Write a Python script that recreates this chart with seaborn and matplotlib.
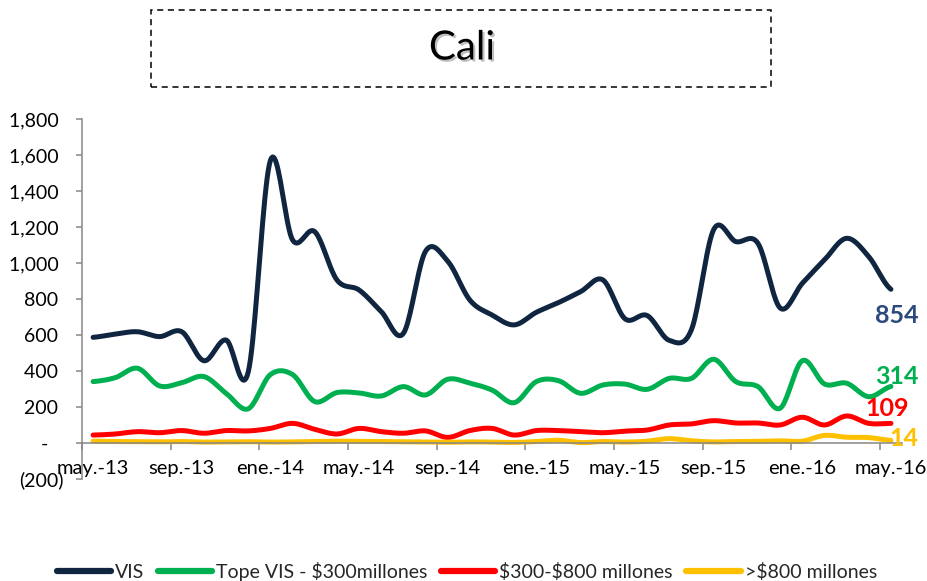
import numpy as np
import pandas as pd
import seaborn as sns
import matplotlib.pyplot as plt
import matplotlib.patheffects as pe
from matplotlib.patches import Rectangle
from matplotlib.ticker import FuncFormatter, FixedLocator

# monthly values, may-13 .. may-16
vis = [587, 605, 618, 591, 618, 457, 572, 395, 1570, 1128, 1174, 906, 850,
       730, 609, 1065, 1010, 794, 711, 656, 726, 780, 841, 906, 690, 708,
       570, 630, 1185, 1119, 1109, 750, 887, 1017, 1137, 1035, 854]
tope_vis = [341, 363, 415, 317, 335, 369, 276, 190, 380, 380, 230, 280, 278,
            261, 313, 267, 354, 332, 294, 224, 341, 346, 276, 322, 327, 298,
            359, 359, 465, 341, 313, 193, 457, 328, 332, 257, 314]
rango_300_800 = [44, 50, 63, 57, 69, 54, 69, 67, 81, 109, 76, 50, 81, 63, 54,
                 67, 31, 69, 81, 44, 69, 69, 63, 57, 66, 72, 100, 106, 124,
                 111, 111, 100, 143, 100, 150, 109, 109]
mayor_800 = [10, 8, 7, 6, 8, 5, 6, 7, 5, 6, 8, 10, 9, 8, 7, 6, 4, 6, 5, 3, 8,
             15, 2, 8, 5, 10, 24, 12, 6, 8, 9, 12, 10, 42, 32, 30, 14]

month_labels = ["may.-13", "sep.-13", "ene.-14", "may.-14", "sep.-14",
                "ene.-15", "may.-15", "sep.-15", "ene.-16", "may.-16"]

series_names = ["VIS", "Tope VIS - $300millones", "$300-$800 millones",
                ">$800 millones"]
series_values = [vis, tope_vis, rango_300_800, mayor_800]
colors = ["#0F2540", "#00B050", "#FF0000", "#FFC000"]
label_colors = ["#2E4A7D", "#00B050", "#FF0000", "#FFC000"]
label_offsets = [(4, -19), (4, 7), (-3, 11), (9, 1.5)]


def smooth(y, n=20):
    # catmull-rom curve through the points, like excel's smoothed line
    y = np.asarray(y, dtype=float)
    p = np.concatenate([[y[0]], y, [y[-1]]])
    xs, ys = [], []
    for i in range(len(y) - 1):
        p0, p1, p2, p3 = p[i], p[i + 1], p[i + 2], p[i + 3]
        t = np.linspace(0, 1, n, endpoint=False)
        c = 0.5 * (2 * p1 + (-p0 + p2) * t + (2 * p0 - 5 * p1 + 4 * p2 - p3) * t ** 2
                   + (-p0 + 3 * p1 - 3 * p2 + p3) * t ** 3)
        xs.append(i + t)
        ys.append(c)
    xs.append([len(y) - 1])
    ys.append([y[-1]])
    return np.concatenate(xs), np.concatenate(ys)


frames = []
for name, vals in zip(series_names, series_values):
    sx, sy = smooth(vals)
    frames.append(pd.DataFrame({"x": sx, "y": sy, "serie": name}))
df = pd.concat(frames, ignore_index=True)

sns.set_style("white")
plt.rcParams['font.family'] = ['Lato', 'DejaVu Sans']

fig = plt.figure(figsize=(9.28, 5.81), dpi=100)
ax = fig.add_axes([0.0884, 0.1756, 0.8836, 0.6196])

sns.lineplot(data=df, x="x", y="y", hue="serie", palette=colors,
             hue_order=series_names, sort=False, linewidth=3.6, ax=ax,
             legend=True)
for line in ax.get_lines():
    line.set_solid_capstyle("round")

ax.set_xlim(-0.5, 36.5)
ax.set_ylim(-200, 1800)
ax.set_xlabel("")
ax.set_ylabel("")

gray = "#868686"
for s in ["top", "right"]:
    ax.spines[s].set_visible(False)
ax.spines["left"].set_color(gray)
ax.spines["bottom"].set_color(gray)
ax.spines["left"].set_linewidth(1.1)
ax.spines["bottom"].set_linewidth(1.1)
ax.spines["bottom"].set_position(("data", 0))

ax.set_yticks(np.arange(-200, 1801, 200))


def y_fmt(v, pos):
    if v == 0:
        return "-   "
    if v < 0:
        return "({:,.0f})".format(-v)
    return "{:,.0f} ".format(v)


ax.yaxis.set_major_formatter(FuncFormatter(y_fmt))
ax.tick_params(axis="y", direction="out", length=4.5, width=1.1, color=gray,
               pad=9, labelsize=14, labelcolor="black", left=True)

# ticks sit between months, labels on the months
ax.xaxis.set_major_locator(FixedLocator(np.arange(-0.5, 36, 4)))
ax.xaxis.set_minor_locator(FixedLocator(np.arange(0, 37, 4)))
ax.xaxis.set_major_formatter(FuncFormatter(lambda v, p: ""))
ax.xaxis.set_minor_formatter(FuncFormatter(lambda v, p: month_labels[int(round(v / 4))]))
ax.tick_params(axis="x", which="major", direction="out", length=5, width=1.1,
               color=gray, bottom=True)
ax.tick_params(axis="x", which="minor", length=0, pad=12, labelsize=14.5,
               labelcolor="black", bottom=True)

# end labels
for vals, col, off in zip(series_values, label_colors, label_offsets):
    ax.annotate(str(vals[-1]), xy=(36, vals[-1]), xytext=off,
                textcoords="offset points", ha="center", va="center",
                fontsize=18, fontweight="bold", color=col)

handles, labels = ax.get_legend_handles_labels()
ax.get_legend().remove()
labels = [l.replace("$", r"\$") for l in labels]
leg = fig.legend(handles, labels, loc="lower center", ncol=4,
                 bbox_to_anchor=(0.503, -0.03), frameon=False, fontsize=14,
                 handlelength=2.8, handletextpad=0.2, columnspacing=0.7)
for h in leg.get_lines():
    h.set_linewidth(4.5)
    h.set_solid_capstyle("round")

# title box
fig.patches.append(Rectangle((151 / 928, 1 - 87 / 581), 620 / 928, 77 / 581,
                             transform=fig.transFigure, fill=False,
                             edgecolor="black", linewidth=1.1,
                             linestyle=(0, (4, 3))))
fig.text(462 / 928, 1 - 48 / 581, "Cali", ha="center", va="center",
         fontsize=29, color="black",
         path_effects=[pe.withSimplePatchShadow(offset=(1.5, -1.5),
                                                alpha=0.25)])

fig.savefig("out.png", dpi=100)
